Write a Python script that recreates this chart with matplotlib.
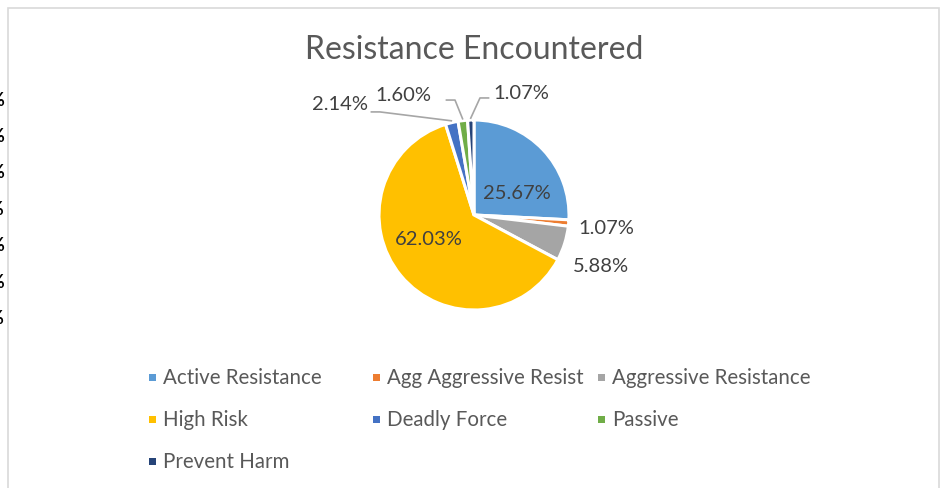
import matplotlib.pyplot as plt
from matplotlib.patches import Rectangle
import numpy as np

# values as shown on the chart (percent of incidents)
categories = ["Active Resistance", "Agg Aggressive Resist", "Aggressive Resistance",
              "High Risk", "Deadly Force", "Passive", "Prevent Harm"]
shares = [25.67, 1.07, 5.88, 62.03, 2.14, 1.60, 1.07]
colors = ["#5B9BD5", "#ED7D31", "#A5A5A5", "#FFC000", "#4472C4", "#70AD47", "#264478"]

# tick labels of the neighbouring chart that peek in at the left edge
cut_ticks = ["70%", "60%", "50%", "40%", "30%", "20%", "10%"]

W, H = 941, 489
plt.rcParams['font.family'] = ['Lato', 'DejaVu Sans']

def px(x, y):
    # pixel position (from top-left) -> figure fraction
    return x / W, 1 - y / H

fig = plt.figure(figsize=(W / 100, H / 100), dpi=100)

# light chart-area border (bottom runs off the picture)
fig.add_artist(Rectangle(px(8, 520), (939 - 8) / W, (520 - 9) / H,
                         transform=fig.transFigure, fill=False,
                         edgecolor="#D9D9D9", linewidth=1.2))

for i, t in enumerate(cut_ticks):
    fig.text(*px(5, 100 + i * 36.4), t, ha="right", va="center", fontsize=13,
             color="black", fontweight="bold")

fig.text(*px(474, 50), "Resistance Encountered", ha="center", va="center",
         fontsize=23, color="#595959")

# pie axes: centre (474, 216) px, radius 95 px
cx, cy, r = 474, 216, 95
ax = fig.add_axes([(cx - r) / W, 1 - (cy + r) / H, 2 * r / W, 2 * r / H])
wedges, _ = ax.pie(shares, colors=colors, startangle=90, counterclock=False,
                   wedgeprops=dict(edgecolor="white", linewidth=2.2))
ax.set_xlim(-1, 1)
ax.set_ylim(-1, 1)
ax.set_aspect("auto")
ax.axis("off")

# label placement (pie units); None elbow = no leader line
label_pos = [(0.45, 0.24), (1.39, -0.13), (1.34, -0.53), (-0.48, -0.25),
             (-1.41, 1.17), (-0.74, 1.27), (0.50, 1.29)]
elbows = [None, None, None, None, (-0.99, 1.085), (-0.20, 1.21), (0.063, 1.232)]
label_color = "#404040"
for w, val, (lx, ly), elb in zip(wedges, shares, label_pos, elbows):
    txt = f"{val:.2f}%"
    if elb is not None:
        mid = np.deg2rad((w.theta1 + w.theta2) / 2)
        ex, ey = 1.02 * np.cos(mid), 1.02 * np.sin(mid)
        side = -1 if lx < elb[0] else 1
        ax.plot([ex, elb[0], elb[0] + side * 0.09], [ey, elb[1], elb[1]],
                color="#A6A6A6", linewidth=1.2, clip_on=False)
    ax.text(lx, ly, txt, ha="center", va="center", fontsize=14.5,
            color=label_color, clip_on=False)

# legend laid out as Excel does: 3 equal-width columns, row-major
col_x = [152, 376, 601]
row_y = [378, 420, 462]
for i, (name, c) in enumerate(zip(categories, colors)):
    x, y = col_x[i % 3], row_y[i // 3]
    fig.add_artist(Rectangle(px(x - 3.5, y + 3.5), 7 / W, 7 / H,
                             transform=fig.transFigure, facecolor=c, edgecolor="none"))
    fig.text(*px(x + 11, y), name, ha="left", va="center", fontsize=14.8, color="#595959")

fig.savefig("out.png", dpi=100, facecolor="white")
